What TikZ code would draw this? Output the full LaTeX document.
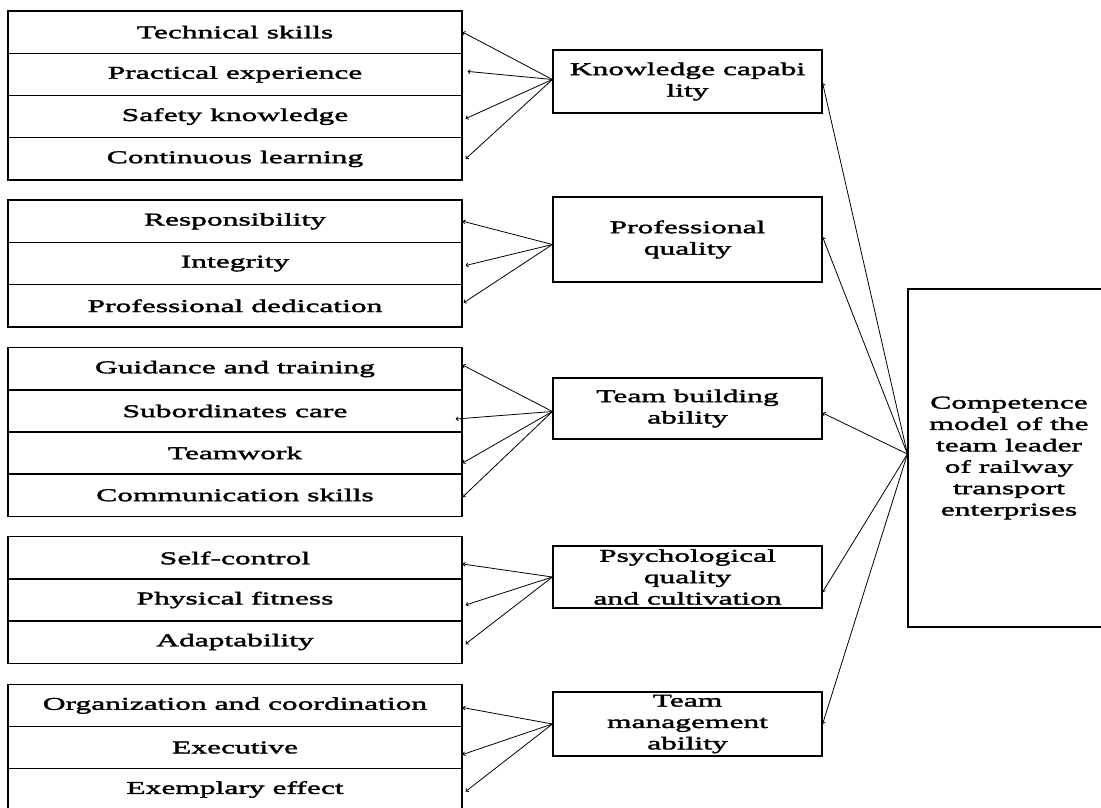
\documentclass[tikz,border=0pt]{standalone}
\usepackage{fontspec}
\setmainfont[FakeStretch=1.75,FakeBold=2]{Liberation Serif}
\usetikzlibrary{arrows.meta}

\tikzset{
	item/.style={draw, line width=1.2pt, minimum width=454pt, minimum height=42.3pt, inner sep=0pt, font=\fontsize{18}{21.4}\selectfont},
	factor/.style={draw, line width=1.2pt, minimum width=269pt, inner sep=0pt, align=center, font=\fontsize{18}{21.4}\selectfont},
	link/.style={line width=0.8pt, -{Straight Barb[length=2pt,width=4pt]}}
}

\begin{document}
\begin{tikzpicture}[x=1pt,y=1pt,yscale=-1]
		\useasboundingbox (0,0) rectangle (1101,807);

		% Knowledge items
		\node [item] (tech) at (235,32.1) {Technical skills};
		\node [item] (pract) at (235,74.4) {Practical experience};
		\node [item] (safety) at (235,116.6) {Safety knowledge};
		\node [item] (learn) at (235,158.9) {Continuous learning};
		% Professional items
		\node [item] (resp) at (235,221.2) {Responsibility};
		\node [item] (integ) at (235,263.5) {Integrity};
		\node [item] (dedic) at (235,305.8) {Professional dedication};
		% Team building items
		\node [item] (guide) at (235,369) {Guidance and training};
		\node [item] (care) at (235,411) {Subordinates care};
		\node [item] (teamw) at (235,453) {Teamwork};
		\node [item] (comm) at (235,495) {Communication skills};
		% Psychological items
		\node [item] (selfc) at (235,558) {Self-control};
		\node [item] (fit) at (235,600) {Physical fitness};
		\node [item] (adapt) at (235,642) {Adaptability};
		% Management items
		\node [item] (organ) at (235,705.5) {Organization and coordination};
		\node [item] (exec) at (235,747.5) {Executive};
		\node [item] (exemp) at (235,789.5) {Exemplary effect};

		% Factor boxes
		\node [factor, minimum height=63pt] (know) at (687.5,81.5) {Knowledge capabi\\lity};
		\node [factor, minimum height=85pt] (prof) at (687.5,239.5) {Professional\\quality};
		\node [factor, minimum height=61pt] (build) at (687.5,408.5) {Team building\\ability};
		\node [factor, minimum height=62pt] (psych) at (687.5,577) {Psychological\\quality\\and cultivation};
		\node [factor, minimum height=64pt] (manage) at (687.5,724) {Team\\management\\ability};

		% Model box
		\node [factor, minimum width=202pt, minimum height=338pt] (model) at (1009,458) {Competence\\model of the\\team leader\\of railway\\transport\\enterprises};

		% Model to factors
		\draw [link] ([yshift=-4pt]model.west) -- ([yshift=1.5pt]know.east);
		\draw [link] ([yshift=-4pt]model.west) -- ([yshift=-2.5pt]prof.east);
		\draw [link] ([yshift=-4pt]model.west) -- ([yshift=4.5pt]build.east);
		\draw [link] ([yshift=-4pt]model.west) -- ([yshift=15pt]psych.east);
		\draw [link] ([yshift=-4pt]model.west) -- (manage.east);

		% Knowledge links
		\draw [link] ([yshift=-2pt]know.west) -- (tech.east);
		\draw [link] ([yshift=-2pt]know.west) -- ([xshift=5pt,yshift=-3pt]pract.east);
		\draw [link] ([yshift=-2pt]know.west) -- ([xshift=3pt,yshift=2pt]safety.east);
		\draw [link] ([yshift=-2pt]know.west) -- ([xshift=3pt]learn.east);
		% Professional links
		\draw [link] ([yshift=5pt]prof.west) -- (resp.east);
		\draw [link] ([yshift=5pt]prof.west) -- ([xshift=3pt,yshift=2pt]integ.east);
		\draw [link] ([yshift=5pt]prof.west) -- ([xshift=1pt,yshift=-3pt]dedic.east);
		% Team building links
		\draw [link] ([yshift=3pt]build.west) -- ([yshift=-4pt]guide.east);
		\draw [link] ([yshift=3pt]build.west) -- ([xshift=-7pt,yshift=8pt]care.east);
		\draw [link] ([yshift=3pt]build.west) -- ([yshift=10pt]teamw.east);
		\draw [link] ([yshift=3pt]build.west) -- ([yshift=2pt]comm.east);
		% Psychological links
		\draw [link] (psych.west) -- ([yshift=6pt]selfc.east);
		\draw [link] (psych.west) -- ([xshift=3pt,yshift=5pt]fit.east);
		\draw [link] (psych.west) -- ([xshift=3pt,yshift=2pt]adapt.east);
		% Management links
		\draw [link] (manage.west) -- ([yshift=2pt]organ.east);
		\draw [link] (manage.west) -- ([yshift=7pt]exec.east);
		\draw [link] (manage.west) -- ([xshift=3pt,yshift=2pt]exemp.east);
	\end{tikzpicture}
\end{document}
